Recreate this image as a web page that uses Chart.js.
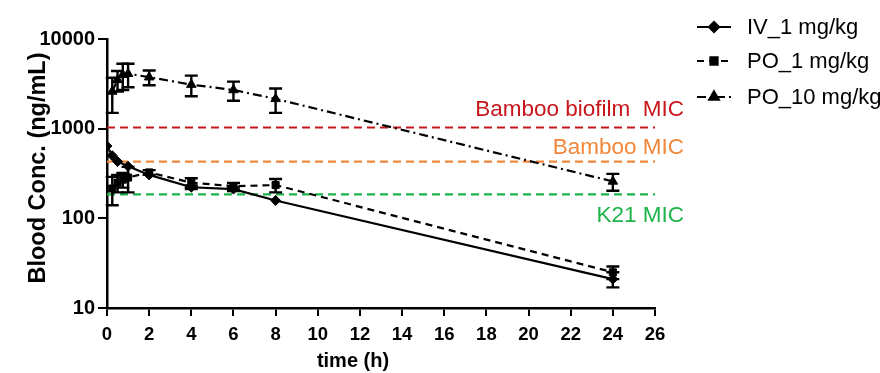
<!DOCTYPE html>
<html>
<head>
<meta charset="utf-8">
<script src="https://cdn.jsdelivr.net/npm/chart.js@4.4.1/dist/chart.umd.min.js"></script>
<style>
html,body{margin:0;padding:0;background:#fff;}
#wrap{width:880px;height:373px;position:relative;}
</style>
</head>
<body>
<div id="wrap"><canvas id="c" width="880" height="373"></canvas></div>
<script>
// ---- data ----
const timeIV   = [0, 0.25, 0.5, 1, 2, 4, 6, 8, 24];
const concIV   = [640, 500, 430, 380, 305, 222, 212, 158, 21];
const sdIV     = [0, 0, 0, 0, 0, 10, 10, 0, 4];

const timePO   = [0.25, 0.5, 0.75, 1, 2, 4, 6, 8, 24];
const concPO1  = [215, 250, 270, 285, 325, 250, 228, 235, 25];
const sdPO1    = [75, 55, 50, 90, 20, 30, 20, 40, 4];
const concPO10 = [2600, 3500, 4000, 4100, 3750, 3100, 2700, 2150, 258];
const sdPO10   = [1100, 900, 1300, 1200, 700, 800, 650, 650, 55];

const micLabels = ['Bamboo biofilm  MIC', 'Bamboo MIC', 'K21 MIC'];
const micValues = [1030, 430, 185];
const micColors = ['#c8161d', '#f0873a', '#1db44a'];

const xTicks = [0,2,4,6,8,10,12,14,16,18,20,22,24,26];
const yTicks = [10, 100, 1000, 10000];

const seriesNames = ['IV_1 mg/kg', 'PO_1 mg/kg', 'PO_10 mg/kg'];
const xTitle = 'time (h)';
const yTitle = 'Blood Conc. (ng/mL)';

const pts = (xs, ys) => xs.map((x, i) => ({x: x, y: ys[i]}));

const FONT = '"Liberation Sans", Arial, Helvetica, sans-serif';

const datasets = [];
micValues.forEach((v, i) => {
  datasets.push({
    label: micLabels[i], data: [{x: 0, y: v}, {x: 26, y: v}],
    borderColor: micColors[i], borderWidth: 2.2, borderDash: [8, 5],
    pointRadius: 0, showLine: true, isMic: true, micIndex: i, order: 5
  });
});
const styles = [
  {dash: [], point: 'rectRot', r: 5},
  {dash: [7, 5], point: 'rect', r: 5},
  {dash: [9, 4, 2, 4], point: 'triangle', r: 5.5}
];
[[timeIV, concIV, sdIV], [timePO, concPO1, sdPO1], [timePO, concPO10, sdPO10]].forEach((s, i) => {
  datasets.push({
    label: seriesNames[i], data: pts(s[0], s[1]), errors: s[2],
    borderColor: '#000', backgroundColor: '#000', borderWidth: 2.2,
    borderDash: styles[i].dash, pointStyle: styles[i].point,
    pointRadius: styles[i].r, pointBorderWidth: 1, showLine: true, tension: 0,
    isSeries: true, order: 1
  });
});

const errPlugin = {
  id: 'errbars',
  afterDatasetsDraw(chart) {
    const ctx = chart.ctx, xs = chart.scales.x, ys = chart.scales.y;
    ctx.save();
    ctx.strokeStyle = '#000'; ctx.lineWidth = 2.4; ctx.setLineDash([]);
    chart.data.datasets.forEach(ds => {
      if (!ds.errors) return;
      ds.data.forEach((p, j) => {
        const e = ds.errors[j]; if (!e) return;
        const x = xs.getPixelForValue(p.x);
        const yt = ys.getPixelForValue(p.y + e);
        const yb = ys.getPixelForValue(Math.max(p.y - e, 10));
        const w = 6.5;
        ctx.beginPath();
        ctx.moveTo(x, yt); ctx.lineTo(x, yb);
        ctx.moveTo(x - w, yt); ctx.lineTo(x + w, yt);
        ctx.moveTo(x - w, yb); ctx.lineTo(x + w, yb);
        ctx.stroke();
      });
    });
    ctx.restore();
  }
};

const labelPlugin = {
  id: 'miclabels',
  afterDatasetsDraw(chart) {
    const ctx = chart.ctx, ys = chart.scales.y;
    const right = chart.chartArea.right;
    const offs = [-18, -14, 21];
    ctx.save();
    ctx.font = '22.5px ' + FONT;
    ctx.textAlign = 'right'; ctx.textBaseline = 'middle';
    micLabels.forEach((t, i) => {
      ctx.fillStyle = micColors[i];
      ctx.fillText(t, right + 29, ys.getPixelForValue(micValues[i]) + offs[i]);
    });
    ctx.restore();
  }
};

const titlePlugin = {
  id: 'axisTitles',
  afterDraw(chart) {
    const ctx = chart.ctx;
    ctx.save();
    ctx.fillStyle = '#000';
    ctx.font = 'bold 20px ' + FONT;
    ctx.textAlign = 'center'; ctx.textBaseline = 'alphabetic';
    ctx.fillText(xTitle, 353, 367);
    ctx.translate(45, 168);
    ctx.rotate(-Math.PI / 2);
    ctx.font = 'bold 23.5px ' + FONT;
    ctx.fillText(yTitle, 0, 0);
    ctx.restore();
  }
};

const legendPlugin = {
  id: 'customLegend',
  afterDraw(chart) {
    const ctx = chart.ctx;
    const rowsY = [27, 61, 97];
    const x0 = 697, x1 = 731, xm = 714, xt = 747;
    ctx.save();
    const series = chart.data.datasets.filter(d => d.isSeries);
    series.forEach((ds, i) => {
      const y = rowsY[i];
      ctx.strokeStyle = '#000'; ctx.fillStyle = '#000'; ctx.lineWidth = 2.2;
      ctx.setLineDash(ds.borderDash);
      ctx.beginPath(); ctx.moveTo(x0, y); ctx.lineTo(x1, y); ctx.stroke();
      ctx.setLineDash([]);
      Chart.helpers.drawPoint(ctx, {pointStyle: ds.pointStyle, radius: ds.pointRadius, borderWidth: 1, rotation: 0}, xm, y);
      ctx.fill();
      ctx.font = '22px ' + FONT;
      ctx.textAlign = 'left'; ctx.textBaseline = 'middle';
      ctx.fillText(ds.label, xt, y + 1);
    });
    ctx.restore();
  }
};

Chart.defaults.font.family = FONT;
Chart.defaults.color = '#000';

new Chart(document.getElementById('c'), {
  type: 'scatter',
  data: {datasets: datasets},
  options: {
    responsive: false, animation: false, devicePixelRatio: 1,
    layout: {padding: {top: 39, right: 225, left: 0, bottom: 0}},
    plugins: {legend: {display: false}, tooltip: {enabled: false}},
    scales: {
      x: {
        type: 'linear', min: 0, max: 26,
        afterBuildTicks: s => { s.ticks = xTicks.map(v => ({value: v})); },
        afterFit: s => { s.height = 65; },
        grid: {display: true, drawOnChartArea: false, drawTicks: true, tickLength: 8, color: '#000', lineWidth: 2},
        border: {display: true, color: '#000', width: 2.5},
        ticks: {font: {size: 18.5, weight: 'bold'}, padding: 8, maxRotation: 0, autoSkip: false},
        title: {display: false}
      },
      y: {
        type: 'logarithmic', min: 10, max: 10000,
        afterBuildTicks: s => { s.ticks = yTicks.map(v => ({value: v, major: true})); },
        afterFit: s => { s.width = 107; },
        grid: {display: true, drawOnChartArea: false, drawTicks: true, tickLength: 9, color: '#000', lineWidth: 2},
        border: {display: true, color: '#000', width: 2.5},
        ticks: {font: {size: 20, weight: 'bold'}, padding: 3, callback: v => String(v)},
        title: {display: false}
      }
    }
  },
  plugins: [errPlugin, labelPlugin, titlePlugin, legendPlugin]
});
</script>
</body>
</html>
